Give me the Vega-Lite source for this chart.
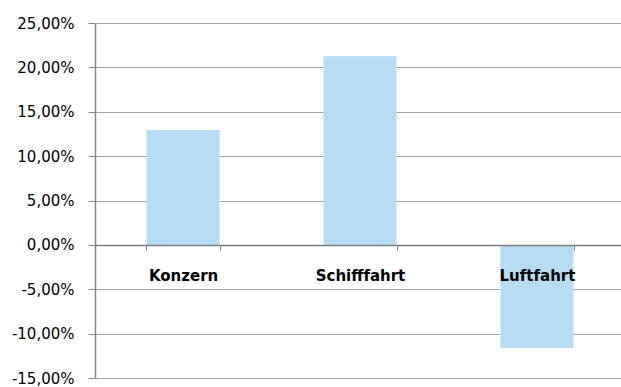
{
  "$schema": "https://vega.github.io/schema/vega-lite/v6.json",
  "autosize": {"type": "none"},
  "padding": {"left": 95, "top": 23, "right": 0, "bottom": 9},
  "width": 530,
  "height": 355,
  "background": "white",
  "config": {"view": {"stroke": null}, "font": "DejaVu Sans"},
  "data": {"values": [
    {"segment": "Konzern", "value": 0.1295},
    {"segment": "Schifffahrt", "value": 0.2125},
    {"segment": "Luftfahrt", "value": -0.1162}
  ]},
  "mark": {"type": "bar", "color": "#B6DDF3"},
  "encoding": {
    "x": {
      "field": "segment", "type": "nominal", "sort": null,
      "scale": {"paddingInner": 0.587, "paddingOuter": 0.291},
      "axis": {
        "title": null, "orient": "bottom", "offset": -133, "zindex": 1,
        "labelAngle": 0, "labelFont": "DejaVu Sans", "labelFontSize": 15, "labelFontWeight": "bold",
        "labelColor": "#000000", "labelPadding": 18, "labelBaseline": "top",
        "domainColor": "#7F7F7F", "domainWidth": 1.6,
        "tickBand": "extent", "tickColor": "#868686", "tickSize": 5, "tickWidth": 1, "grid": false
      }
    },
    "y": {
      "field": "value", "type": "quantitative",
      "scale": {"domain": [-0.15, 0.25], "nice": false},
      "axis": {
        "title": null, "values": [-0.15, -0.1, -0.05, 0, 0.05, 0.1, 0.15, 0.2, 0.25],
        "labelExpr": "replace(replace(format(datum.value, '.2%'), '.', ','), '\u2212', '-')",
        "labelFont": "DejaVu Sans", "labelFontSize": 15, "labelColor": "#000000", "labelPadding": 14,
        "domainColor": "#868686", "domainWidth": 1.5, "tickColor": "#868686", "tickSize": 7,
        "grid": true, "gridColor": "#A6A6A6", "gridWidth": 1.2
      }
    }
  }
}
